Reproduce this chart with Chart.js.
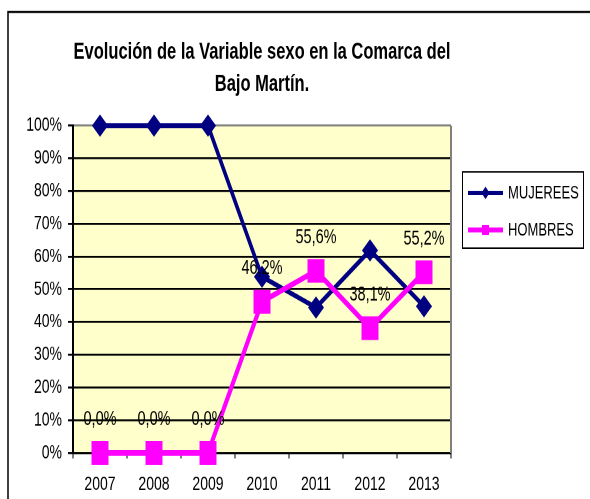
<!DOCTYPE html>
<html>
<head>
<meta charset="utf-8">
<title>Evolución de la Variable sexo</title>
<script src="https://cdn.jsdelivr.net/npm/chart.js@4/dist/chart.umd.min.js"></script>
<style>
  html { overflow: hidden; }
  body { margin: 0; padding: 0; background: #fff; height: 499px; }
  /* el gráfico original está estirado en vertical */
  #wrap { width: 590px; height: 357px; transform: scaleY(1.3978); transform-origin: 0 0; }
</style>
</head>
<body>
<div id="wrap"><canvas id="myChart" width="590" height="357"></canvas></div>
<script>
// Datos
const years = ['2007', '2008', '2009', '2010', '2011', '2012', '2013'];
const mujeres = [100, 100, 100, 53.8, 44.4, 61.9, 44.8];
const hombres = [0, 0, 0, 46.2, 55.6, 38.1, 55.2];

const FONT = "'Liberation Sans', Arial, sans-serif";

// Fondo amarillo, marco exterior y borde gris derecho
const fondo = {
  id: 'fondo',
  beforeDraw(chart) {
    const ctx = chart.ctx;
    const a = chart.chartArea;
    ctx.save();
    ctx.fillStyle = '#fff';
    ctx.fillRect(0, 0, chart.width, chart.height);
    ctx.strokeStyle = '#000';
    ctx.lineWidth = 1.5;
    ctx.strokeRect(8, 8.6, 700, 500);
    ctx.fillStyle = '#FFFFCC';
    ctx.fillRect(a.left, a.top, a.right - a.left, a.bottom - a.top);
    ctx.restore();
  },
  beforeDatasetsDraw(chart) {
    const ctx = chart.ctx;
    const a = chart.chartArea;
    ctx.save();
    ctx.strokeStyle = '#808080';
    ctx.lineWidth = 2;
    ctx.beginPath();
    ctx.moveTo(a.right, a.top);
    ctx.lineTo(a.right, a.bottom);
    ctx.stroke();
    ctx.restore();
  }
};

// Etiquetas de HOMBRES
const etiquetas = {
  id: 'etiquetas',
  afterDatasetsDraw(chart) {
    const ctx = chart.ctx;
    const meta = chart.getDatasetMeta(1);
    ctx.save();
    ctx.font = '14.5px ' + FONT;
    ctx.fillStyle = '#000';
    ctx.textAlign = 'center';
    ctx.textBaseline = 'middle';
    meta.data.forEach((p, i) => {
      ctx.fillText(hombres[i].toFixed(1).replace('.', ',') + '%', p.x, p.y - 24);
    });
    ctx.restore();
  }
};

// Leyenda con recuadro
const leyenda = {
  id: 'leyenda',
  afterDraw(chart) {
    const ctx = chart.ctx;
    ctx.save();
    ctx.strokeStyle = '#000';
    ctx.lineWidth = 1;
    ctx.strokeRect(462.5, 123, 121, 54.5);
    chart.data.datasets.forEach((ds, i) => {
      const y = 138 + i * 26.5;
      ctx.strokeStyle = ds.borderColor;
      ctx.fillStyle = ds.borderColor;
      ctx.lineWidth = i === 0 ? 3 : 3.5;
      ctx.beginPath();
      ctx.moveTo(468, y);
      ctx.lineTo(503, y);
      ctx.stroke();
      ctx.beginPath();
      if (i === 0) {
        ctx.moveTo(485.5, y - 4.5);
        ctx.lineTo(489.5, y);
        ctx.lineTo(485.5, y + 4.5);
        ctx.lineTo(481.5, y);
        ctx.closePath();
      } else {
        ctx.rect(482, y - 3.5, 7, 7);
      }
      ctx.fill();
      ctx.fillStyle = '#000';
      ctx.font = '13px ' + FONT;
      ctx.textAlign = 'left';
      ctx.textBaseline = 'middle';
      ctx.fillText(ds.label, 508, y + 0.5);
    });
    ctx.restore();
  }
};

const data = {
  labels: years,
  datasets: [{
      label: 'MUJEREES',
      data: mujeres,
      borderColor: '#000080',
      backgroundColor: '#000080',
      borderWidth: 3.5,
      pointStyle: 'rectRot',
      pointRadius: 8,
      pointBorderWidth: 0,
      clip: false,
      order: 1
    },
    {
      label: 'HOMBRES',
      data: hombres,
      borderColor: '#FF00FF',
      backgroundColor: '#FF00FF',
      borderWidth: 4,
      pointStyle: 'rect',
      pointRadius: 12,
      pointBorderWidth: 0,
      clip: false,
      order: 0
    }
  ]
};

const config = {
  type: 'line',
  data: data,
  options: {
    responsive: false,
    animation: false,
    devicePixelRatio: 2,
    layout: { padding: { left: 0, right: 139, top: 0, bottom: 0 } },
    plugins: {
      legend: { display: false },
      tooltip: { enabled: false },
      title: {
        display: true,
        fullSize: false,
        text: ['Evolución de la Variable sexo en la Comarca del', 'Bajo Martín.'],
        color: '#000',
        font: { family: FONT, size: 16.5, weight: 'bold', lineHeight: 1.39 },
        padding: { top: 26, bottom: 18 }
      }
    },
    scales: {
      x: {
        offset: true,
        afterFit(s) { s.height = 33; },
        grid: {
          offset: true,
          drawOnChartArea: false,
          drawTicks: true,
          tickLength: 4,
          color: '#000',
          lineWidth: 1
        },
        border: { color: '#000', width: 1.5 },
        ticks: { color: '#000', padding: 10, font: { family: FONT, size: 14 } }
      },
      y: {
        min: 0,
        max: 100,
        afterFit(s) { s.width = 73; },
        grid: {
          color: (c) => c.tick && c.tick.value === 100 ? '#808080' : '#000',
          lineWidth: 1.4,
          tickColor: '#000',
          tickLength: 5
        },
        border: { color: '#000', width: 2 },
        ticks: {
          stepSize: 10,
          color: '#000',
          padding: 6,
          font: { family: FONT, size: 14 },
          callback: (v) => v + '%'
        }
      }
    }
  },
  plugins: [fondo, etiquetas, leyenda]
};

// Dibujar el gráfico
const myChart = new Chart(document.getElementById('myChart'), config);
</script>
</body>
</html>
